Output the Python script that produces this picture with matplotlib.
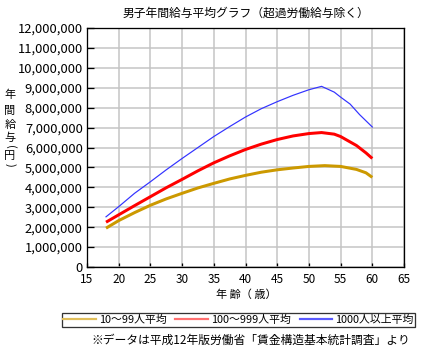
import matplotlib
matplotlib.use("Agg")
import matplotlib.pyplot as plt
from matplotlib.ticker import FuncFormatter, MultipleLocator

plt.rcParams['font.family'] = ['Noto Sans CJK JP', 'DejaVu Sans']

# 年齢と年間給与（百万円）
age_small = [18, 20, 22.5, 25, 27.5, 30, 32.5, 35, 37.5, 40, 42.5, 45, 47.5, 50, 52.5, 55, 57.5, 59, 60]
pay_small = [1.95, 2.33, 2.73, 3.10, 3.42, 3.70, 3.97, 4.20, 4.42, 4.60, 4.76, 4.88, 4.97, 5.05, 5.09, 5.05, 4.90, 4.73, 4.50]

age_mid = [18, 20, 22.5, 25, 27.5, 30, 32.5, 35, 37.5, 40, 42.5, 45, 47.5, 50, 52, 54, 55, 57.5, 59, 60]
pay_mid = [2.25, 2.62, 3.08, 3.53, 3.98, 4.40, 4.83, 5.23, 5.58, 5.90, 6.17, 6.40, 6.58, 6.70, 6.75, 6.67, 6.55, 6.10, 5.73, 5.45]

age_large = [18, 20, 22.5, 25, 27.5, 30, 32.5, 35, 37.5, 40, 42.5, 45, 47.5, 50, 52, 54, 55, 56.5, 58, 60]
pay_large = [2.52, 3.03, 3.70, 4.28, 4.88, 5.45, 6.00, 6.55, 7.05, 7.53, 7.95, 8.30, 8.62, 8.90, 9.07, 8.78, 8.53, 8.18, 7.65, 7.03]

labels = ['10～99人平均', '100～999人平均', '1000人以上平均']

W, H = 426, 351
fig = plt.figure(figsize=(W / 100, H / 100), dpi=100)
ax = fig.add_axes([87 / W, 1 - 267 / H, (404 - 87) / W, (267 - 28) / H])

px = 0.72  # 1ピクセル = 0.72pt
ax.plot(age_small, [v * 1e6 for v in pay_small], color='#CC9900', lw=3 * px, solid_capstyle='butt')
ax.plot(age_mid, [v * 1e6 for v in pay_mid], color='#FF0000', lw=3 * px, solid_capstyle='butt')
ax.plot(age_large, [v * 1e6 for v in pay_large], color='#3333FF', lw=1.2 * px)

ax.set_xlim(15, 65)
ax.set_ylim(0, 12e6)
ax.xaxis.set_major_locator(MultipleLocator(5))
ax.yaxis.set_major_locator(MultipleLocator(1e6))
ax.yaxis.set_major_formatter(FuncFormatter(lambda v, p: f'{int(v):,}'))
ax.grid(True, color='#C4C4C4', lw=1.5 * px)
ax.set_axisbelow(True)
for s in ax.spines.values():
    s.set_color('black')
    s.set_linewidth(1.3 * px)
ax.tick_params(axis='y', direction='in', length=5, width=1.3 * px, labelsize=9.3, pad=3)
ax.tick_params(axis='x', direction='in', length=3, width=1.3 * px, labelsize=8.5, pad=4)

fig.text(246 / W, 1 - 13 / H, '男子年間給与平均グラフ（超過労働給与除く）', ha='center', va='center', fontsize=8.5)
fig.text(246 / W, 1 - 295 / H, '年 齢（ 歳）', ha='center', va='center', fontsize=8)

# 縦書きの軸ラベル（括弧は回転させて縦書き風に）
ylab_chars = ['年', '間', '給', '与', '(', '円', ')']
ylab_y = [95, 111, 125, 138, 147, 156, 165]
for ch, yy in zip(ylab_chars, ylab_y):
    rot = -90 if ch in '()' else 0
    fig.text(10 / W, 1 - yy / H, ch, ha='center', va='center', fontsize=8, rotation=rot)

handles = [
    plt.Line2D([], [], color='#E0BE5A', lw=2.2 * px),
    plt.Line2D([], [], color='#FF7070', lw=2.2 * px),
    plt.Line2D([], [], color='#5A5AFF', lw=2.2 * px),
]
leg = fig.legend(handles, labels, loc='center', bbox_to_anchor=(238.5 / W, 1 - 320 / H), ncol=3,
                 fontsize=7.8, frameon=True, fancybox=False, edgecolor='black', handlelength=3.0,
                 handletextpad=0.3, columnspacing=0.8, borderpad=0.15, borderaxespad=0)
leg.get_frame().set_linewidth(1.3 * px)

fig.text(410 / W, 1 - 340 / H, '※データは平成12年版労働省「賃金構造基本統計調査」より', ha='right', va='center', fontsize=8.5)

fig.savefig('out.png', dpi=100)
